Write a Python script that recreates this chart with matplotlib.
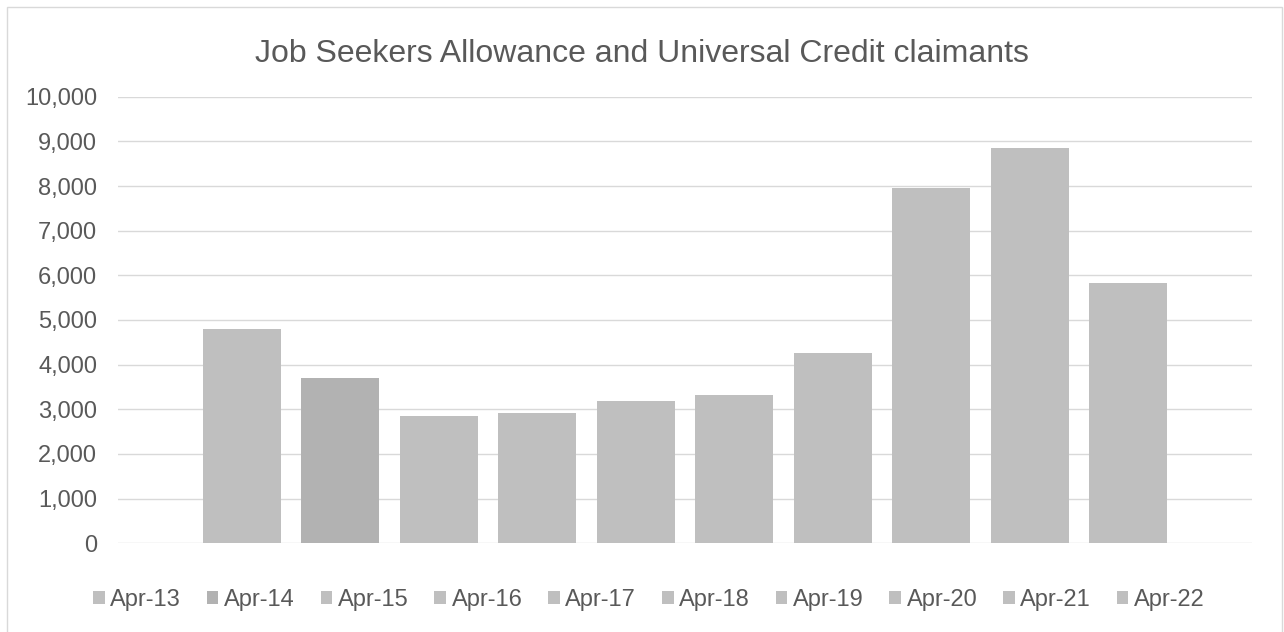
import matplotlib
matplotlib.use("Agg")
import matplotlib.pyplot as plt
from matplotlib.patches import Rectangle, Patch
from matplotlib.ticker import FuncFormatter

plt.rcParams['font.family'] = ['Liberation Sans', 'DejaVu Sans']

title = "Job Seekers Allowance and Universal Credit claimants"
series = ["Apr-13", "Apr-14", "Apr-15", "Apr-16", "Apr-17",
          "Apr-18", "Apr-19", "Apr-20", "Apr-21", "Apr-22"]
values = [4800, 3700, 2860, 2910, 3180, 3330, 4260, 7950, 8850, 5830]
colors = ["#BFBFBF", "#B2B2B2", "#BFBFBF", "#BFBFBF", "#BFBFBF",
          "#BFBFBF", "#BFBFBF", "#BFBFBF", "#BFBFBF", "#BFBFBF"]
yticks = [0, 1000, 2000, 3000, 4000, 5000, 6000, 7000, 8000, 9000, 10000]

TEXT = "#595959"
GRID = "#D9D9D9"

W, H = 1284, 632
fig = plt.figure(figsize=(W / 100, H / 100), dpi=100)
fig.patch.set_facecolor("white")

# outer chart border
fig.add_artist(Rectangle((6.5 / W, -0.05), (1282 - 6.5) / W, 1.05 - 6.5 / H,
                         transform=fig.transFigure, fill=False,
                         edgecolor=GRID, linewidth=1.0, clip_on=False))

ax = fig.add_axes([118 / W, (H - 543.3) / H, (1252 - 118) / W, (543.3 - 96.7) / H])
x = list(range(len(series)))
ax.bar(x, values, width=0.793, color=colors, zorder=3)

ax.set_xlim(-1.26, len(series) - 1 + 1.26)
ax.set_ylim(0, 10000)
ax.set_yticks(yticks)
ax.yaxis.set_major_formatter(FuncFormatter(lambda v, p: f"{int(v):,}"))
ax.set_xticks([])
ax.tick_params(axis='y', length=0, pad=15, labelsize=17, labelcolor=TEXT)
ax.grid(axis='y', color=GRID, linewidth=1.0, zorder=0)
for s in ax.spines.values():
    s.set_visible(False)

fig.text(0.5, (H - 62) / H, title, ha='center', va='baseline',
         fontsize=23, color=TEXT)

handles = [Patch(facecolor=c, edgecolor='none') for c in colors]
leg = fig.legend(handles, series, loc='center', bbox_to_anchor=(649 / W, (H - 600) / H),
                 ncol=len(series), frameon=False, fontsize=17,
                 handlelength=0.49, handleheight=0.49, handletextpad=0.24,
                 columnspacing=1.09, borderaxespad=0, borderpad=0)
for t in leg.get_texts():
    t.set_color(TEXT)

fig.savefig("out.png", dpi=100, facecolor="white")
